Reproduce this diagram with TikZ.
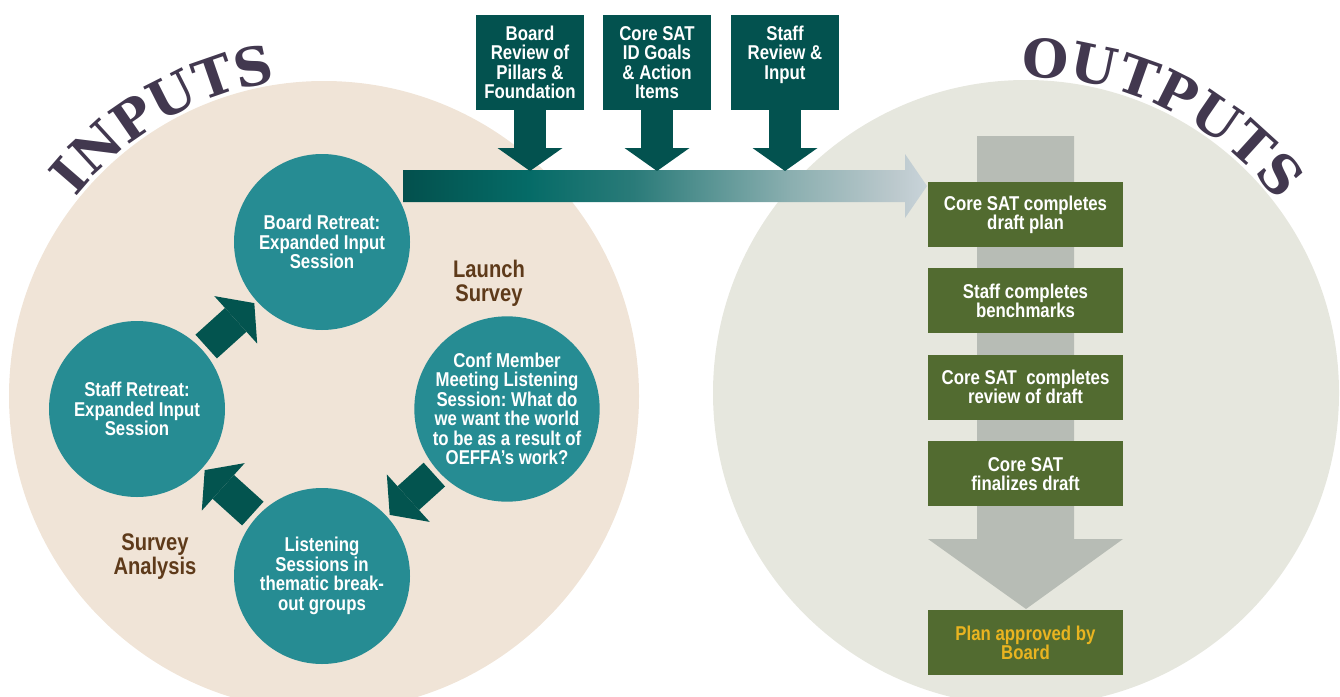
\documentclass[tikz,border=0pt]{standalone}
\usepackage{fontspec}
\setmainfont{Liberation Sans}[FakeStretch=0.84]
\newfontfamily\titlefont{DejaVu Serif}
\usepackage{tikz}
\usetikzlibrary{shapes,arrows.meta,positioning,decorations.text}
\usepackage{xcolor}
\frenchspacing

\definecolor{inbg}{HTML}{F0E4D7}
\definecolor{outbg}{HTML}{E6E7DE}
\definecolor{circteal}{HTML}{268C93}
\definecolor{cycleteal}{HTML}{03544F}
\definecolor{feedteal}{HTML}{03524F}
\definecolor{outgreen}{HTML}{526B30}
\definecolor{greyarrow}{HTML}{B7BCB5}
\definecolor{surveybrown}{HTML}{5E3A1A}
\definecolor{titlepurple}{HTML}{42384F}
\definecolor{approvegold}{HTML}{E9B420}
\definecolor{bandA}{HTML}{03504D}
\definecolor{bandB}{HTML}{045C58}
\definecolor{bandC}{HTML}{056B67}
\definecolor{bandD}{HTML}{2A7B79}
\definecolor{bandE}{HTML}{8BAFB0}
\definecolor{bandF}{HTML}{BCC9CD}
\definecolor{bandG}{HTML}{C9D4DA}

\pgfdeclarehorizontalshading{bandshade}{100bp}{color(0bp)=(bandA); color(25bp)=(bandA); color(30bp)=(bandB); color(37bp)=(bandC); color(47bp)=(bandD); color(62bp)=(bandE); color(72bp)=(bandF); color(75bp)=(bandG); color(100bp)=(bandG)}

\begin{document}
\begin{tikzpicture}[x=1pt,y=-1pt]
      \tikzstyle{stepcircle} = [circle, fill=circteal, minimum size=176pt, inner sep=0pt, text=white, align=center, font=\fontsize{20}{19.5}\selectfont\bfseries]
      \tikzstyle{feedbox} = [rectangle, fill=feedteal, minimum width=108pt, minimum height=95pt, inner sep=0pt, text=white, align=center, font=\fontsize{20}{19.5}\selectfont\bfseries]
      \tikzstyle{outbox} = [rectangle, fill=outgreen, minimum width=195pt, minimum height=65pt, inner sep=0pt, text=white, align=center, font=\fontsize{20}{19}\selectfont\bfseries]
      \tikzstyle{surveylabel} = [align=center, text=surveybrown, font=\fontsize{24}{24}\selectfont\bfseries]
      \tikzstyle{cyclearrow} = [draw=cycleteal, line width=32pt, -{Triangle[length=25pt,width=64pt,line width=0pt]}, shorten <=5pt, shorten >=3pt]
      \tikzstyle{feedarrow} = [draw=feedteal, line width=32pt, -{Triangle[length=23pt,width=65pt,line width=0pt]}]
      \tikzstyle{bigtitle} = [decorate, decoration={text along path, text align=center, text color=titlepurple}]

      \useasboundingbox (0,0) rectangle (1340,696);
      \fill[inbg] (324,396) circle[radius=315];
      \fill[outbg] (1026,393) circle[radius=313];

      \path[bigtitle, decoration={text={|\titlefont\bfseries\fontsize{53}{53}\selectfont|INPUTS}}]
        (324,396) ++(200:318) arc[start angle=200, end angle=280, radius=318];
      \path[bigtitle, decoration={text={|\titlefont\bfseries\fontsize{53}{53}\selectfont|OUTPUTS}}]
        (1026,393) ++(256:316) arc[start angle=256, end angle=336, radius=316];

      \shade[shading=bandshade] (403,170) -- (905,170) -- (905,154) -- (927,186) -- (905,218) -- (905,202) -- (403,202) -- cycle;
      \coordinate (bandtop) at (0,171);

      \node[feedbox] (pillars) at (530,62.5) {Board\\Review of\\Pillars \&\\Foundation};
      \node[feedbox] (goals) at (657,62.5) {Core SAT\\ID Goals\\\& Action\\Items};
      \node[feedbox] (staffinput) at (785,62.5) {Staff\\Review \&\\Input\\\mbox{}};

      \draw[feedarrow] (pillars.south) -- (pillars.south |- bandtop);
      \draw[feedarrow] (goals.south) -- (goals.south |- bandtop);
      \draw[feedarrow] (staffinput.south) -- (staffinput.south |- bandtop);

      \node[stepcircle] (board) at (322,242) {Board Retreat:\\Expanded Input\\Session};
      \node[stepcircle] (staff) at (137,409) {Staff Retreat:\\Expanded Input\\Session};
      \node[stepcircle] (member) at (507,409) {Conf Member\\Meeting Listening\\Session: What do\\we want the world\\to be as a result of\\OEFFA’s work?};
      \node[stepcircle] (listening) at (322,576) {Listening\\Sessions in\\thematic break-\\out groups};

      \draw[cyclearrow] (staff) -- (board);
      \draw[cyclearrow] (member) -- (listening);
      \draw[cyclearrow] (listening) -- (staff);

      \node[surveylabel] (launch) at (489,283) {Launch\\Survey};
      \node[surveylabel] (analysis) at (155,557) {Survey\\Analysis};

      \fill[greyarrow] (977,136) -- (1074,136) -- (1074,539) -- (1123,539) -- (1026,609) -- (928,539) -- (977,539) -- cycle;

      \node[outbox] (draftplan) at (1025.5,214.5) {Core SAT completes\\draft plan};
      \node[outbox, below=21pt of draftplan] (benchmarks) {Staff completes\\benchmarks};
      \node[outbox, below=21pt of benchmarks] (review) {Core SAT\ \ completes\\review of draft};
      \node[outbox, below=21pt of review] (finalize) {Core SAT\\finalizes draft};
      \node[outbox, text=approvegold] (approved) at (1025.5,642.5) {Plan approved by\\Board};
    \end{tikzpicture}
\end{document}
